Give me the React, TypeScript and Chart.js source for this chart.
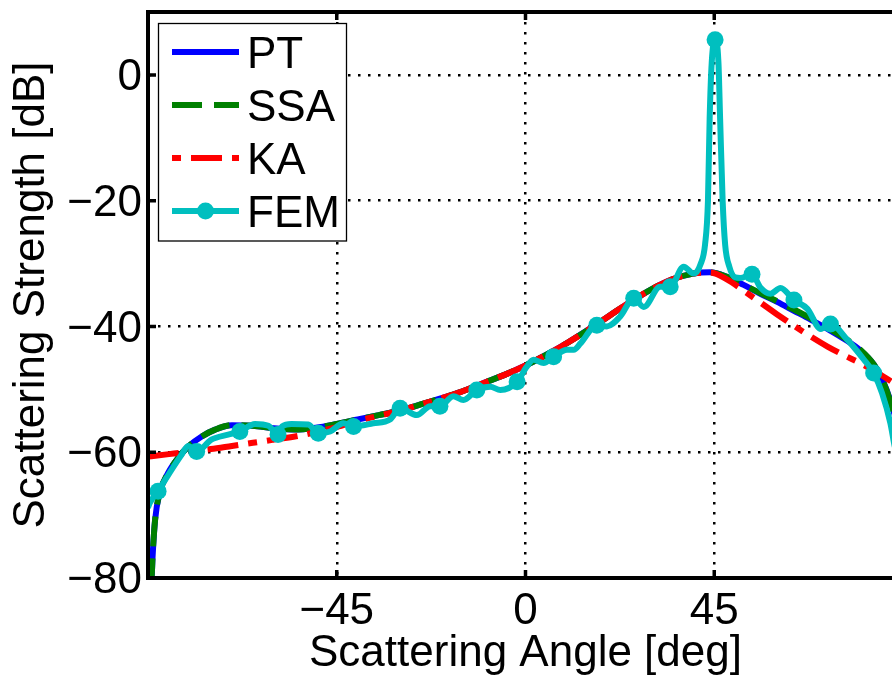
import React, { useEffect, useRef } from 'react';
import { Chart, registerables } from 'chart.js';

Chart.register(...registerables);

// ---------------- data ----------------
const SERIES_LABELS = ['PT', 'SSA', 'KA', 'FEM'];
const X_TITLE = 'Scattering Angle [deg]';
const Y_TITLE = 'Scattering Strength [dB]';
const X_TICKS = [-45, 0, 45];
const Y_TICKS = [-80, -60, -40, -20, 0];

const PT_ANGLES = [-90, -89.4, -89.1, -88.9, -88.3, -87.2, -85.2, -82.8, -80.4, -77.2, -74, -70, -65, -60, -55, -50, -45, -40, -35, -30, -25, -20, -15, -10, -5, 0, 5, 10, 15, 20, 25, 30, 35, 40, 44, 48, 52, 56, 60, 64, 68, 72, 76, 80, 83, 85, 87, 88.5, 90];
const PT_VALUES = [-95, -82, -79.5, -76.5, -70.7, -66.4, -63.3, -60.9, -59.1, -57.5, -56.4, -55.7, -55.8, -56.2, -56.4, -56.1, -55.5, -54.8, -54.1, -53.4, -52.4, -51.4, -50.3, -49.0, -47.7, -46.2, -44.5, -42.6, -40.5, -38.3, -36.1, -34.1, -32.5, -31.6, -31.4, -32.1, -33.4, -34.8, -36.1, -37.5, -38.9, -40.4, -42.0, -43.9, -46.0, -48.3, -51.8, -55.5, -62];

const SSA_ANGLES = [-90, -89.4, -89.1, -88.9, -88.3, -87.2, -85.2, -82.8, -80.4, -77.2, -74, -70, -65, -60, -55, -50, -45, -40, -35, -30, -25, -20, -15, -10, -5, 0, 5, 10, 15, 20, 25, 30, 35, 40, 44, 48, 52, 56, 60, 64, 68, 72, 76, 80, 83, 85, 87, 88.5, 90];
const SSA_VALUES = [-95, -82, -79.5, -76.5, -70.7, -66.4, -63.3, -60.9, -59.1, -57.5, -56.4, -55.7, -55.8, -56.2, -56.4, -56.1, -55.5, -54.8, -54.1, -53.4, -52.4, -51.4, -50.3, -49.0, -47.7, -46.2, -44.5, -42.6, -40.5, -38.3, -36.1, -34.1, -32.5, -31.6, -31.4, -32.1, -33.4, -34.7, -36.0, -37.3, -38.7, -40.2, -41.8, -43.8, -46.0, -48.4, -52.0, -55.8, -62];

const KA_ANGLES = [-90, -85, -80, -75, -70, -65, -60, -55, -50, -45, -40, -35, -30, -25, -20, -15, -10, -5, 0, 5, 10, 15, 20, 25, 30, 35, 40, 44, 48, 52, 56, 60, 64, 68, 72, 76, 80, 84, 88, 90];
const KA_VALUES = [-60.7, -60.3, -59.9, -59.5, -59.0, -58.5, -58.0, -57.5, -56.8, -56.0, -55.0, -54.2, -53.4, -52.4, -51.4, -50.3, -49.0, -47.7, -46.2, -44.5, -42.6, -40.5, -38.3, -36.1, -34.1, -32.5, -31.6, -31.4, -32.5, -34.3, -36.2, -38.1, -39.9, -41.6, -43.2, -44.6, -45.9, -47.4, -49.1, -50.0];

const FEM_ANGLES = [-90, -89.6, -87.6, -84.4, -82.0, -80.4, -78.4, -74.9, -70.9, -68.1, -64.5, -61.3, -59.0, -58.0, -55.8, -51.8, -49.4, -46.6, -43.4, -41.0, -36.3, -32.3, -29.9, -25.9, -22.7, -20.4, -17.2, -14.8, -11.6, -8.4, -6.0, -2.0, 0.3, 1.9, 4.3, 6.7, 9.9, 11.5, 13.1, 17.0, 19.4, 22.6, 25.8, 28.2, 32.1, 34.5, 37.7, 40.1, 41.8, 42.8, 43.5, 43.9, 44.4, 45.2, 46.0, 46.4, 47.0, 47.6, 48.6, 50.0, 51.2, 54.0, 56.0, 58.4, 60.8, 64.0, 67.2, 70.4, 72.7, 76.7, 80.7, 83.0, 85.0, 87.0, 88.0, 90.0];
const FEM_VALUES = [-68.8, -68.1, -66.2, -62.8, -60.4, -59.0, -59.9, -58.0, -57.2, -56.7, -55.5, -55.8, -57.2, -55.9, -55.5, -55.6, -57.0, -56.7, -55.4, -55.9, -55.4, -54.8, -53.0, -54.1, -52.7, -52.7, -51.1, -51.7, -50.1, -49.6, -50.1, -48.8, -46.4, -45.3, -45.8, -44.8, -43.7, -43.7, -42.7, -39.8, -40.0, -38.4, -35.5, -36.9, -33.7, -33.7, -30.5, -31.6, -30.0, -27.0, -20.0, -7.0, 2.0, 5.6, 2.0, -7.0, -20.0, -27.0, -30.5, -32.2, -32.3, -31.7, -33.8, -34.8, -33.9, -35.8, -37.2, -40.4, -39.6, -42.1, -45.3, -47.4, -50.6, -55.4, -59.0, -64.0];
const FEM_MARKER_ANGLES = [-87.6, -78.4, -68.1, -59.0, -49.4, -41.0, -29.9, -20.4, -11.6, -2.0, 6.7, 17.0, 25.8, 34.5, 45.2, 54.0, 64.0, 72.7, 83.0];

// ---------------- styles ----------------
const FONT_FAMILY = '"Liberation Sans", Arial, Helvetica, sans-serif';
const COLORS = ['#0000ff', '#008000', '#ff0000', '#00bfbf'];
const LINE_W = 6;
const SSA_DASH = [30, 12];
const KA_DASH = [31, 10, 9, 10];

const fmt = (v: number) => (v < 0 ? '\u2212' + Math.abs(v) : String(v));
const toPoints = (xs: number[], ys: number[]) => xs.map((x, i) => ({ x, y: ys[i] }));

const framePlugin = {
  id: 'frame',
  afterDatasetsDraw(chart: any) {
    const { ctx, chartArea: a, scales } = chart;
    ctx.save();
    ctx.strokeStyle = '#000';
    ctx.lineWidth = 4;
    ctx.strokeRect(a.left, a.top, a.right - a.left, a.bottom - a.top);
    ctx.lineWidth = 3.5;
    ctx.beginPath();
    X_TICKS.forEach((v) => {
      const x = scales.x.getPixelForValue(v);
      ctx.moveTo(x, a.bottom);
      ctx.lineTo(x, a.bottom - 8);
      ctx.moveTo(x, a.top);
      ctx.lineTo(x, a.top + 8);
    });
    Y_TICKS.forEach((v) => {
      const y = scales.y.getPixelForValue(v);
      ctx.moveTo(a.left, y);
      ctx.lineTo(a.left + 8, y);
    });
    ctx.stroke();
    ctx.restore();
  },
};

const legendPlugin = {
  id: 'boxLegend',
  afterDraw(chart: any) {
    const { ctx } = chart;
    const bx = 158.5, by = 23.5, bw = 188, bh = 217.5;
    ctx.save();
    ctx.fillStyle = '#fff';
    ctx.fillRect(bx, by, bw, bh);
    ctx.strokeStyle = '#000';
    ctx.lineWidth = 1.3;
    ctx.strokeRect(bx, by, bw, bh);
    const x0 = 172, x1 = 239;
    SERIES_LABELS.forEach((label, i) => {
      const y = 52 + 53 * i;
      ctx.strokeStyle = COLORS[i];
      ctx.lineWidth = LINE_W;
      ctx.lineCap = 'butt';
      if (i === 1) { ctx.setLineDash(SSA_DASH); ctx.lineDashOffset = 0; }
      else if (i === 2) { ctx.setLineDash(KA_DASH); ctx.lineDashOffset = 41; }
      else ctx.setLineDash([]);
      ctx.beginPath();
      ctx.moveTo(x0, y);
      ctx.lineTo(x1, y);
      ctx.stroke();
      ctx.setLineDash([]);
      if (i === 3) {
        ctx.fillStyle = COLORS[3];
        ctx.beginPath();
        ctx.arc((x0 + x1) / 2, y, 8.5, 0, Math.PI * 2);
        ctx.fill();
      }
      ctx.fillStyle = '#000';
      ctx.font = `44px ${FONT_FAMILY}`;
      ctx.textBaseline = 'alphabetic';
      ctx.textAlign = 'left';
      ctx.fillText(label, 247, y + 16);
    });
    ctx.restore();
  },
};

export default function App() {
  const canvasRef = useRef<HTMLCanvasElement | null>(null);

  useEffect(() => {
    const canvas = canvasRef.current;
    if (!canvas) return;
    const markerSet = new Set(FEM_MARKER_ANGLES);
    const font = { family: FONT_FAMILY, size: 44 };
    const chart = new Chart(canvas, {
      type: 'line',
      data: {
        datasets: [
          {
            label: SERIES_LABELS[0],
            data: toPoints(PT_ANGLES, PT_VALUES),
            borderColor: COLORS[0],
            borderWidth: LINE_W,
            pointRadius: 0,
            cubicInterpolationMode: 'monotone',
            order: 4,
          },
          {
            label: SERIES_LABELS[1],
            data: toPoints(SSA_ANGLES, SSA_VALUES),
            borderColor: COLORS[1],
            borderWidth: LINE_W,
            borderDash: SSA_DASH,
            pointRadius: 0,
            cubicInterpolationMode: 'monotone',
            order: 3,
          },
          {
            label: SERIES_LABELS[2],
            data: toPoints(KA_ANGLES, KA_VALUES),
            borderColor: COLORS[2],
            borderWidth: LINE_W,
            borderDash: KA_DASH,
            pointRadius: 0,
            cubicInterpolationMode: 'monotone',
            order: 2,
          },
          {
            label: SERIES_LABELS[3],
            data: toPoints(FEM_ANGLES, FEM_VALUES),
            borderColor: COLORS[3],
            borderWidth: LINE_W,
            borderJoinStyle: 'round',
            pointRadius: (c: any) => (markerSet.has(FEM_ANGLES[c.dataIndex]) ? 8.5 : 0),
            pointBackgroundColor: COLORS[3],
            pointBorderWidth: 0,
            cubicInterpolationMode: 'monotone',
            order: 1,
          },
        ],
      } as any,
      options: {
        animation: false,
        responsive: false,
        maintainAspectRatio: false,
        events: [],
        layout: { padding: { top: 12, left: 0, right: 0, bottom: 0 } },
        plugins: { legend: { display: false }, tooltip: { enabled: false } },
        scales: {
          x: {
            type: 'linear',
            min: -90,
            max: 90,
            afterBuildTicks: (s: any) => { s.ticks = X_TICKS.map((v) => ({ value: v })); },
            afterFit: (s: any) => { s.height = 103; s.paddingLeft = 0; s.paddingRight = 0; },
            grid: { color: '#000', lineWidth: 2.5, drawTicks: false },
            border: { display: false, dash: [2.5, 7.5] },
            ticks: { color: '#000', font, padding: 7, maxRotation: 0, autoSkip: false, callback: (v: any) => fmt(Number(v)) },
            title: { display: true, text: X_TITLE, color: '#000', font, padding: { top: 0, bottom: 1 } },
          },
          y: {
            type: 'linear',
            min: -80,
            max: 10,
            afterBuildTicks: (s: any) => { s.ticks = Y_TICKS.map((v) => ({ value: v })); },
            afterFit: (s: any) => { s.width = 148; s.paddingTop = 0; s.paddingBottom = 0; },
            grid: { color: '#000', lineWidth: 2.5, drawTicks: false },
            border: { display: false, dash: [2.5, 7.5] },
            ticks: { color: '#000', font, padding: 6, labelOffset: 3, autoSkip: false, callback: (v: any) => fmt(Number(v)) },
            title: { display: true, text: Y_TITLE, color: '#000', font, padding: { top: 5, bottom: 0 } },
          },
        },
      } as any,
      plugins: [framePlugin, legendPlugin],
    });
    return () => chart.destroy();
  }, []);

  return (
    <div style={{ position: 'absolute', left: 0, top: 0, width: 892, height: 681, overflow: 'hidden', background: '#fff' }}>
      <canvas ref={canvasRef} width={903} height={681} style={{ display: 'block', width: 903, height: 681 }} />
    </div>
  );
}
